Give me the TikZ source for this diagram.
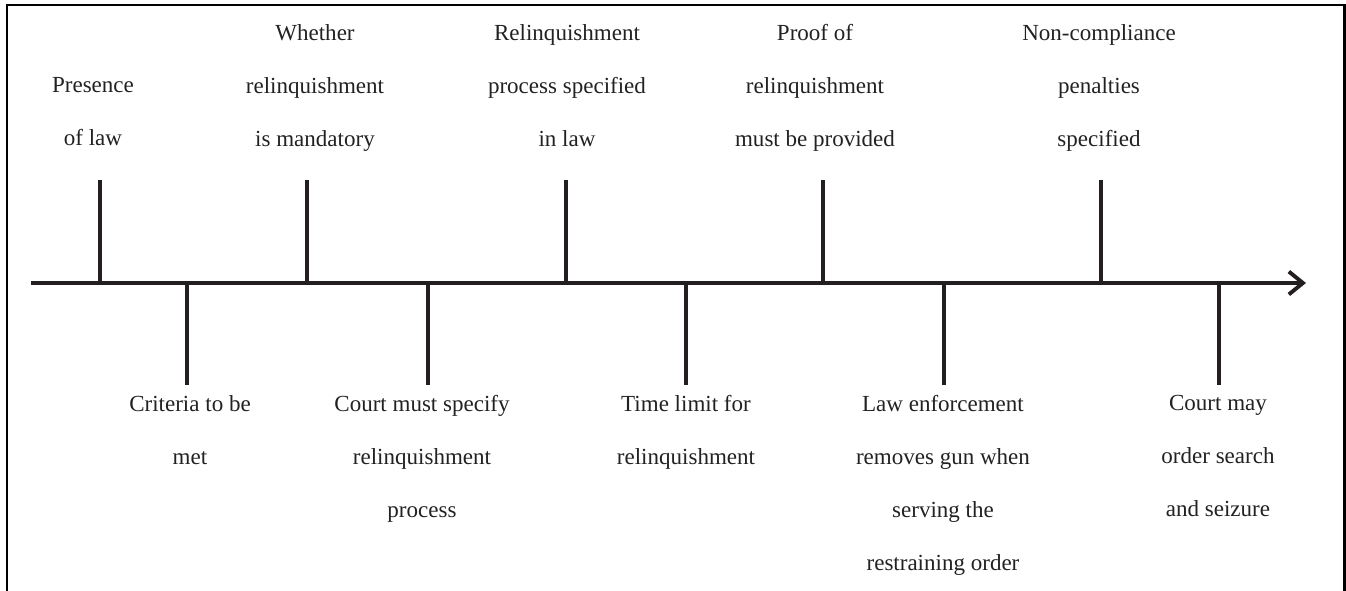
\documentclass[tikz,border=0pt]{standalone}
\usepackage{fontspec}
\setmainfont{Liberation Serif}
\usepackage{tikz}
\usetikzlibrary{calc}
\usetikzlibrary{arrows.meta}
\usetikzlibrary{positioning}
\usepackage{color}
\definecolor{inkline}{RGB}{35, 31, 32}
\definecolor{inktext}{RGB}{34, 34, 34}

\tikzset{
    frameline/.style   = {black, line width=1.7pt},
    axisline/.style    = {inkline, line width=2pt, -{Straight Barb[length=8pt, width=13pt, line width=2.2pt]}},
    tickline/.style    = {inkline, line width=2pt},
    eventtext/.style   = {inktext, inner sep=0pt, align=center, anchor=north,
                          font=\fontsize{13.1}{30.2}\selectfont},
}

\begin{document}
\begin{tikzpicture}
            % Canvas
            \useasboundingbox                                              ( 0.00, 0.00) rectangle (26.92,11.80);
            \draw[frameline]       ( 0.14,-0.50) -- ( 0.14,11.70) -- (26.88,11.70) -- (26.88,-0.50);
            % Time axis
            \coordinate (axisStart)   at ( 0.62, 6.14);
            \coordinate (axisEnd)     at (26.12, 6.14);
            \draw[axisline]                                                (axisStart) -- (axisEnd);
            % Upper ticks
            \coordinate (lawBase)     at ( 2.00, 6.14);  \coordinate (lawTop)     at ( 2.00, 8.20);
            \coordinate (mandBase)    at ( 6.14, 6.14);  \coordinate (mandTop)    at ( 6.14, 8.20);
            \coordinate (procBase)    at (11.32, 6.14);  \coordinate (procTop)    at (11.32, 8.20);
            \coordinate (proofBase)   at (16.46, 6.14);  \coordinate (proofTop)   at (16.46, 8.20);
            \coordinate (penBase)     at (22.02, 6.14);  \coordinate (penTop)     at (22.02, 8.20);
            \draw[tickline] (lawBase)   -- (lawTop);
            \draw[tickline] (mandBase)  -- (mandTop);
            \draw[tickline] (procBase)  -- (procTop);
            \draw[tickline] (proofBase) -- (proofTop);
            \draw[tickline] (penBase)   -- (penTop);
            % Lower ticks
            \coordinate (critBase)    at ( 3.74, 6.14);  \coordinate (critEnd)    at ( 3.74, 4.10);
            \coordinate (specBase)    at ( 8.56, 6.14);  \coordinate (specEnd)    at ( 8.56, 4.10);
            \coordinate (timeBase)    at (13.72, 6.14);  \coordinate (timeEnd)    at (13.72, 4.10);
            \coordinate (gunBase)     at (18.88, 6.14);  \coordinate (gunEnd)     at (18.88, 4.10);
            \coordinate (searchBase)  at (24.38, 6.14);  \coordinate (searchEnd)  at (24.38, 4.10);
            \draw[tickline] (critBase)   -- (critEnd);
            \draw[tickline] (specBase)   -- (specEnd);
            \draw[tickline] (timeBase)   -- (timeEnd);
            \draw[tickline] (gunBase)    -- (gunEnd);
            \draw[tickline] (searchBase) -- (searchEnd);
            % Labels above the axis
            \node[eventtext] (lawText)    at ( 1.86,10.26) {Presence\\of law};
            \node[eventtext] (mandText)   at ( 6.30,11.32) {Whether\\relinquishment\\is mandatory};
            \node[eventtext] (procText)   at (11.34,11.32) {Relinquishment\\process specified\\in law};
            \node[eventtext] (proofText)  at (16.30,11.32) {Proof of\\relinquishment\\must be provided};
            \node[eventtext] (penText)    at (21.98,11.32) {Non-compliance\\penalties\\specified};
            % Labels below the axis
            \node[eventtext] (critText)   at ( 3.80, 3.90) {Criteria to be\\met};
            \node[eventtext] (specText)   at ( 8.44, 3.90) {Court must specify\\relinquishment\\process};
            \node[eventtext] (timeText)   at (13.72, 3.90) {Time limit for\\relinquishment};
            \node[eventtext] (gunText)    at (18.86, 3.90) {Law enforcement\\removes gun when\\serving the\\restraining order};
            \node[eventtext] (searchText) at (24.36, 3.90) {Court may\\order search\\and seizure};
        \end{tikzpicture}
\end{document}
